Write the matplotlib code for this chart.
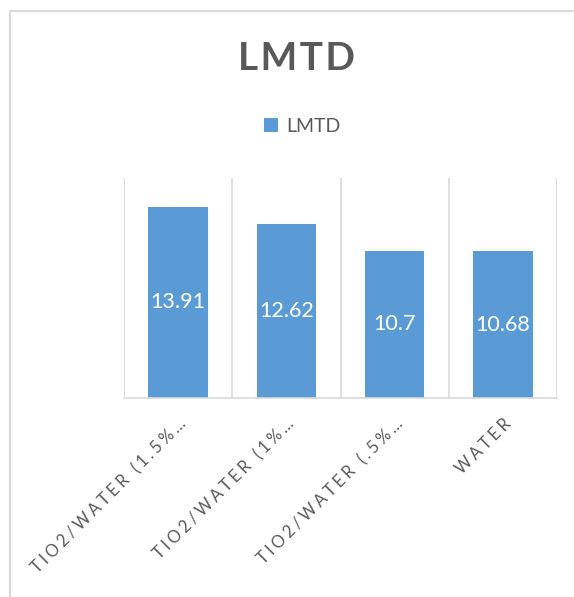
import numpy as np
import matplotlib
matplotlib.use('Agg')
import matplotlib.pyplot as plt
from matplotlib.lines import Line2D

categories = ['TIO2/WATER (1.5%…', 'TIO2/WATER (1%…', 'TIO2/WATER (.5%…', 'WATER']
lmtd = [13.91, 12.62, 10.7, 10.68]
series_name = 'LMTD'

bar_color = '#5B9BD5'
text_color = '#595959'
grid_color = '#D9D9D9'

plt.rcParams['font.family'] = ['Lato', 'DejaVu Sans']


def spaced(s, sep='\u2009'):
	return sep.join(s)


def plot_chart():
	fig = plt.figure(figsize=(5.74, 5.97), dpi=100)
	ax = fig.add_axes([124/574, 1 - 398/597, (557-124)/574, (398-178)/597])

	x = np.arange(len(categories))
	bars = ax.bar(x, lmtd, width=0.55, color=bar_color, label=series_name, zorder=2)

	for b, v in zip(bars, lmtd):
		ax.text(b.get_x() + b.get_width()/2, v/2, f'{v:g}', color='white',
				ha='center', va='center', fontsize=15.5, zorder=3)

	ax.set_xlim(-0.5, len(categories) - 0.5)
	ax.set_ylim(0, 16)

	# category separators
	for sep in np.arange(-0.5, len(categories), 1.0):
		ax.axvline(sep, color=grid_color, lw=1.2, zorder=1)

	for s in ['top', 'right', 'left']:
		ax.spines[s].set_visible(False)
	ax.spines['bottom'].set_color(grid_color)
	ax.spines['bottom'].set_linewidth(1.2)
	ax.set_yticks([])
	ax.set_xticks(x)
	ax.set_xticklabels([spaced(c, '\u2009\u200a') for c in categories], rotation=45, ha='right',
					   va='top', rotation_mode='anchor', fontsize=12, color=text_color)
	ax.tick_params(axis='x', length=0, pad=13)

	fig.text(297/574, 1 - 58/597, spaced('LMTD', '\u200a'), ha='center', va='center',
			 fontsize=28, fontweight='bold', color=text_color)

	leg = fig.legend(handles=[bars], labels=[series_name], loc='center',
					 bbox_to_anchor=(302/574, 1 - 126/597), frameon=False, fontsize=14,
					 handlelength=0.75, handleheight=0.75, handletextpad=0.4)
	for t in leg.get_texts():
		t.set_color(text_color)

	# chart area border (top and left visible)
	fig.add_artist(Line2D([10/574, 10/574], [0, 1 - 11/597], color=grid_color, lw=1.5))
	fig.add_artist(Line2D([10/574, 1], [1 - 11/597, 1 - 11/597], color=grid_color, lw=1.5))

	fig.savefig('out.png', dpi=100)


if __name__ == "__main__":
	plot_chart()
